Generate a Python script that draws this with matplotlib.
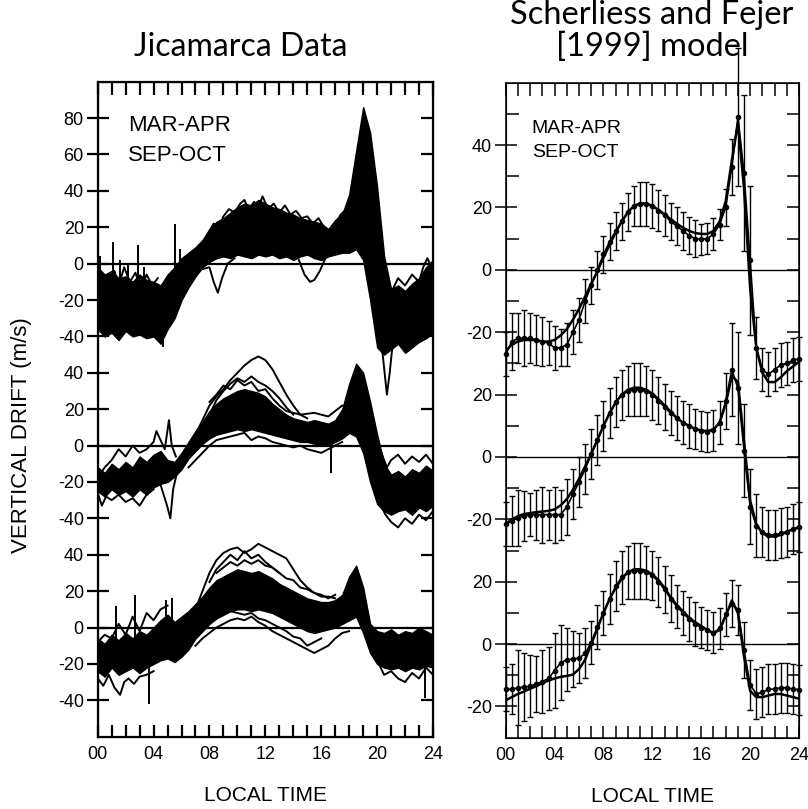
import numpy as np
import matplotlib.pyplot as plt

plt.rcParams['font.family'] = ['Liberation Sans', 'DejaVu Sans']

HOURS = np.arange(0, 24.5, 0.5)

# ---------------- Jicamarca data (left), three stacked sets ----------------
LEFT_OFFSETS = [0, -100, -200]
LEFT_TICK_LABELS = [[80, 60, 40, 20, 0, -20, -40],
                    [40, 20, 0, -20, -40],
                    [40, 20, 0, -20, -40]]

TOP_UPPER = [-2, -6, -4, -8, -7, -10, -6, -9,
             -10, -12, -6, -2, 3, 6, 9, 13,
             19, 23, 25, 28, 31, 33, 32, 35,
             33, 31, 30, 28, 27, 25, 24, 23,
             22, 19, 24, 27, 38, 62, 86, 72,
             42, 4, -14, -12, -15, -11, -8, -2, 2]
TOP_LOWER = [-36, -40, -38, -42, -37, -40, -39, -41,
             -40, -44, -36, -30, -20, -13, -7, -2,
             1, 3, 4, 3, 5, 4, 3, 5,
             4, 5, 3, 4, 2, 4, 5, 3,
             2, 4, 5, 6, 6, 8, 2, -20,
             -46, -50, -47, -44, -49, -46, -43, -41, -38]
TOP_TRACES = [
    ([7.5, 8.0, 8.3, 8.6, 8.9, 9.3, 9.8], [-3, -2, -10, -16, -8, 0, 3]),
    ([14.4, 14.8, 15.2, 15.5, 15.9, 16.3], [2, -6, -10, -9, -4, 3]),
    ([20.0, 20.4, 20.7, 20.9, 21.1, 21.5], [-30, -50, -72, -60, -45, -40]),
    ([20.6, 21.0, 21.5, 22.0, 22.5, 23.0, 23.3, 23.6, 24.0],
     [-10, -16, -8, -12, -6, -10, -2, 3, -4]),
    ([7.5, 8, 8.3, 8.7, 9, 9.4, 9.8, 10.2, 10.5, 10.8, 11.2, 11.5, 11.8, 12.2, 12.6,
      13, 13.4, 13.8, 14.2, 14.6, 15, 15.4, 15.8, 16.2, 16.6, 17, 17.4, 17.8],
     [10, 18, 22, 20, 26, 30, 28, 33, 35, 30, 34, 31, 37, 30, 33,
      28, 32, 27, 29, 25, 26, 22, 25, 20, 18, 22, 27, 30]),
    ([0, 0.4, 0.8, 1.2, 1.5, 1.9, 2.3, 2.7, 3.1, 3.5, 3.9, 4.3],
     [-20, -8, -14, -4, -12, -2, -10, -5, -14, -6, -12, -8]),
]
TOP_SPIKE_H = [0.2, 1.1, 1.6, 2.2, 2.9, 3.3, 5.5, 5.9, 4.7]
TOP_SPIKE_LO = [-15, -20, -15, -15, -20, -18, -28, -12, -46]
TOP_SPIKE_HI = [4, 12, 2, 0, 10, -2, 22, 8, -30]

MID_UPPER = [-12, -15, -10, -13, -9, -12, -6, -9,
             -5, -3, -8, -9, -4, 2, 8, 13,
             19, 23, 26, 28, 30, 31, 30, 29,
             27, 23, 20, 17, 15, 14, 13, 14,
             13, 12, 14, 20, 34, 45, 40, 24,
             6, -10, -16, -14, -17, -13, -15, -11, -14]
MID_LOWER = [-25, -28, -24, -27, -25, -28, -24, -27,
             -23, -21, -20, -17, -13, -7, -3, 1,
             4, 6, 7, 8, 9, 8, 9, 8,
             7, 6, 5, 4, 3, 2, 2, 1,
             0, 0, 2, 4, 7, 5, -4, -20,
             -32, -36, -38, -36, -35, -38, -34, -36, -33]
MID_TRACES = [
    ([6, 6.5, 7, 7.5, 8, 8.5, 9, 9.5, 10, 10.5, 11, 11.5, 12, 12.5, 13, 13.5, 14, 14.5, 15],
     [-12, -4, 6, 14, 22, 27, 31, 36, 40, 44, 47, 49, 47, 42, 35, 28, 22, 17, 15]),
    ([7, 7.5, 8, 8.5, 9, 9.5, 10, 10.5, 11, 11.5, 12, 12.5, 13, 13.5, 14],
     [4, 10, 17, 25, 30, 34, 37, 35, 38, 35, 33, 30, 26, 21, 17]),
    ([6.5, 7, 7.5, 8, 8.5, 9, 9.5, 10, 10.5, 11, 11.5, 12, 12.5, 13, 13.5, 14, 14.5,
      15, 15.5, 16, 16.5, 17, 17.5],
     [-12, -8, -4, 0, 3, 4, 5, 6, 7, 3, 5, 4, 2, 1, 0, -1, 0, -2, -3, -4, -2, 0, 2]),
    ([0, 0.5, 1, 1.5, 2, 2.5, 3, 3.5, 4, 4.2, 4.5, 4.8, 5.1, 5.3, 5.6],
     [-18, -12, -8, -2, -6, 0, -4, -2, 2, 8, 3, -2, 14, 0, -6]),
    ([4.2, 4.6, 5.0, 5.2, 5.4, 5.7], [-14, -24, -34, -40, -24, -14]),
    ([0, 0.3, 0.6, 1, 1.5, 2, 2.5, 3, 3.5, 4],
     [-26, -33, -28, -30, -27, -31, -29, -33, -27, -24]),
    ([19.8, 20.2, 20.6, 21, 21.5, 22, 22.5, 23, 23.5, 24],
     [-20, -32, -38, -42, -45, -40, -43, -38, -41, -36]),
    ([20.3, 20.7, 21, 21.5, 22, 22.5, 23, 23.5, 24],
     [-4, -12, -8, -5, -10, -6, -9, -5, -10]),
    ([8, 8.5, 9, 9.5, 10, 10.5, 11, 11.5, 12, 12.5, 13, 13.5, 14.5, 15.5, 16.5, 17.5],
     [24, 28, 33, 31, 36, 33, 35, 30, 31, 26, 22, 19, 17, 18, 16, 22]),
]
MID_SPIKE_H = [16.7]
MID_SPIKE_LO = [-15]
MID_SPIKE_HI = [2]

BOT_UPPER = [-6, -9, -4, -7, -3, -6, -2, -4,
             0, 4, 7, 3, 6, 9, 13, 17,
             22, 26, 28, 30, 32, 31, 30, 31,
             29, 27, 24, 22, 20, 18, 16, 15,
             14, 14, 15, 18, 28, 34, 22, 2,
             -2, -3, -1, -4, -2, -3, 0, -2, -4]
BOT_LOWER = [-24, -27, -22, -26, -24, -22, -25, -22,
             -20, -18, -17, -19, -16, -12, -6, -2,
             2, 5, 7, 9, 10, 10, 9, 10,
             9, 8, 6, 4, 2, 0, -2, -3,
             -2, -1, 0, 2, 4, 6, -3, -14,
             -20, -22, -23, -22, -24, -22, -23, -21, -22]
BOT_TRACES = [
    ([7, 7.5, 8, 8.5, 9, 9.5, 10, 10.5, 11, 11.5, 12, 12.5, 13, 13.5, 14, 14.5, 15,
      15.5, 16, 16.5, 17],
     [10, 20, 30, 37, 41, 43, 44, 41, 43, 46, 44, 42, 40, 38, 32, 26, 22, 19, 18, 16, 18]),
    ([8, 8.5, 9, 9.5, 10, 10.5, 11, 11.5, 12, 12.5, 13],
     [25, 32, 36, 40, 37, 42, 38, 40, 36, 33, 30]),
    ([7, 7.5, 8, 8.5, 9, 9.5, 10, 10.5, 11, 11.5, 12, 12.5, 13, 13.5, 14, 14.5, 15,
      15.5, 16, 16.5, 17, 17.5, 18],
     [-10, -6, -3, 0, 2, 4, 5, 4, 6, 3, 1, -2, -4, -6, -8, -10, -12, -14, -12, -10, -6, -3, -2]),
    ([8, 8.5, 9, 9.5, 10, 10.5, 11, 11.5, 12, 12.5, 13, 13.5, 14, 14.5, 15, 15.5, 16],
     [4, 6, 8, 9, 8, 7, 8, 5, 4, 2, 0, -2, -5, -6, -10, -8, -6]),
    ([0, 0.4, 0.8, 1.2, 1.6, 1.9, 2.2, 2.6, 3, 3.5, 4],
     [-28, -32, -26, -33, -37, -30, -28, -31, -27, -26, -24]),
    ([0, 0.5, 1, 1.5, 2, 2.5, 3, 3.5, 4, 4.5, 5],
     [-8, -4, -6, 2, -4, 6, -2, 8, 4, 10, 12]),
    ([19.5, 20, 20.5, 21, 21.5, 22, 22.5, 23, 23.5, 24],
     [-8, -18, -26, -24, -28, -30, -25, -28, -22, -26]),
    ([8.5, 9, 9.5, 10, 10.5, 11, 11.5, 12, 12.5, 13, 13.5, 14, 14.5, 15, 15.5, 16, 16.5, 17],
     [30, 33, 36, 34, 37, 35, 37, 34, 33, 30, 27, 26, 22, 21, 19, 17, 17, 16]),
]
BOT_SPIKE_H = [1.3, 2.7, 3.7, 4.9, 5.3, 23.4]
BOT_SPIKE_LO = [-6, -6, -42, -4, -2, -39]
BOT_SPIKE_HI = [12, 18, -20, 15, 16, -15]

# ---------------- Scherliess and Fejer model (right) ----------------
RIGHT_OFFSETS = [0, -60, -120]
RIGHT_TICK_LABELS = [[40, 20, 0, -20], [20, 0, -20], [20, 0, -20]]

TOP_MODEL = [-26, -24, -23, -22.5, -22.5, -22.5, -23, -23,
             -22.5, -21, -19, -16, -12.5, -8.5, -4.5, -0.5,
             4, 8, 12, 15.5, 18.5, 20.5, 21.3, 21.3,
             20.5, 19.2, 17.8, 16.2, 14.8, 13.5, 12.5, 11.8,
             11.5, 11.5, 12.5, 15.5, 22, 35, 47, 26,
             -6, -25, -33, -36, -36, -34.5, -32.5, -31, -29.5]
TOP_DATA = [-27, -23, -22, -22, -22, -22.5, -23, -23.5,
            -25, -25, -24, -20, -16, -10, -5, 0,
            5, 9, 12.5, 15.5, 18.5, 20.5, 21, 21,
            20.5, 19, 17.5, 15.5, 14, 12.5, 11, 10,
            9.8, 10, 11.5, 14.5, 20, 33, 49, 31,
            3, -25, -32, -33.5, -32, -30.5, -30, -29, -28.5]
TOP_ERR = [7, 9, 8, 9, 8, 8, 8, 7,
           7, 6, 7, 7, 7, 7, 6, 6,
           6, 6, 6, 6, 6, 6.5, 7, 7,
           7, 6.5, 6.5, 6, 6, 6, 6, 6,
           5, 5, 5, 5, 6, 9, 22, 25,
           24, 10, 7, 7, 7, 7, 7, 7, 7]

MID_MODEL = [-21.5, -20, -19, -18.3, -18, -17.7, -17.5, -17.3,
             -16.8, -15.5, -13.5, -10.5, -7, -3, 1, 5.5,
             10, 14, 17.5, 20, 21.5, 22.2, 22.2, 21.5,
             20.3, 18.5, 16.5, 14.5, 12.5, 11, 10, 9,
             8.5, 8.3, 8.8, 11, 17, 26, 24, 5,
             -14, -21.5, -24.5, -25.5, -25.5, -25, -24, -23.3, -22.5]
MID_DATA = [-21.6, -20.5, -19.5, -19, -18.5, -18.5, -18.5, -18.5,
            -18.5, -18.5, -16, -12, -8, -4, 1, 5.5,
            10, 14, 17.5, 20, 21, 21.5, 21.5, 21,
            20, 18, 16, 14, 12.5, 11, 10, 9,
            8.3, 8, 8.5, 11, 18, 28, 22, 2,
            -16, -22, -24, -25, -25, -24.5, -24, -23, -22.5]
MID_ERR = [7, 8, 9, 8, 7, 8, 9, 8,
           9, 8, 9, 8, 8, 8, 8, 8,
           8, 8, 8, 8, 8, 8.5, 8.5, 8,
           8, 7.5, 7.5, 7, 7, 7, 7, 6.5,
           6.5, 6.5, 6.5, 7, 9, 15, 18, 15,
           12, 10, 8, 8, 8, 8, 8, 8, 8]

BOT_MODEL = [-18, -17, -16, -15.2, -14.3, -13.5, -12.5, -11.7,
             -11, -10.5, -10.2, -9.8, -8, -5, 0, 5,
             10, 14.5, 18, 21, 23, 24, 24, 23.5,
             22.3, 20.5, 18, 15, 12.5, 10.5, 8.5, 7,
             5.8, 4.5, 3.5, 4.5, 9, 14, 10, -4,
             -15, -17, -17, -16.5, -16, -16, -16.5, -17, -17.5]
BOT_DATA = [-14.5, -14.5, -14, -13.8, -13.5, -12.8, -12, -11,
            -8.5, -6, -5, -4.8, -4.5, -3, 0.5, 5.5,
            10, 14.5, 18.5, 21.5, 23, 23.5, 23.5, 23,
            22, 20, 17.5, 14.5, 12, 10, 8, 6.5,
            5.3, 4.5, 3.7, 5, 9.5, 13, 11, -2,
            -13, -16, -15.5, -14.5, -14.4, -14, -14, -14.4, -14.6]
BOT_ERR = [7, 8, 12, 11, 10, 9, 10, 10,
           12, 12, 10, 9, 8, 8, 7, 7,
           7, 8, 8, 8.5, 8.5, 9, 9, 8.5,
           8, 8, 7.5, 7.5, 7, 7, 7, 7,
           6.5, 6.5, 6.5, 6.5, 7, 7.5, 8, 9,
           8, 8, 8, 8, 8, 8, 8, 8, 8]

SEASONS = ['MAR-APR', 'SEP-OCT']


def main():
    fig = plt.figure(figsize=(8.08, 8.09), dpi=100)
    ax_l = fig.add_axes([0.1209, 0.0894, 0.4150, 0.8096])
    ax_r = fig.add_axes([0.6259, 0.0882, 0.3630, 0.8096])

    plot_jicamarca(ax_l)
    plot_model(ax_r)

    title_font = ['Lato', 'DejaVu Sans']
    fig.text(241 / 808, 1 - 47 / 809, 'Jicamarca Data', ha='center', va='center',
             fontsize=23, family=title_font)
    fig.text(652 / 808, 1 - 15 / 809, 'Scherliess and Fejer', ha='center', va='center',
             fontsize=23.5, family=title_font)
    fig.text(652 / 808, 1 - 47 / 809, '[1999] model', ha='center', va='center',
             fontsize=23.5, family=title_font)
    fig.text(22 / 808, 1 - 435 / 809, 'VERTICAL DRIFT (m/s)', rotation=90,
             ha='center', va='center', fontsize=16)

    plt.savefig('out.png', dpi=100)


def style_time_axis(ax, lw):
    ax.set_xlim(0, 24)
    ax.set_xticks(range(0, 25))
    ax.set_xticklabels(['%02d' % h if h % 4 == 0 else '' for h in range(0, 25)])
    ax.tick_params(axis='x', direction='in', top=True, length=9, width=lw,
                   labelsize=13, pad=7)
    ax.set_xlabel('LOCAL TIME', fontsize=15, labelpad=16)
    for sp in ax.spines.values():
        sp.set_linewidth(lw)


def plot_jicamarca(ax):
    stacks = [
        (TOP_UPPER, TOP_LOWER, TOP_TRACES, TOP_SPIKE_H, TOP_SPIKE_LO, TOP_SPIKE_HI),
        (MID_UPPER, MID_LOWER, MID_TRACES, MID_SPIKE_H, MID_SPIKE_LO, MID_SPIKE_HI),
        (BOT_UPPER, BOT_LOWER, BOT_TRACES, BOT_SPIKE_H, BOT_SPIKE_LO, BOT_SPIKE_HI),
    ]
    for off, (up, lo, traces, sh, slo, shi) in zip(LEFT_OFFSETS, stacks):
        ax.fill_between(HOURS, np.array(lo) + off, np.array(up) + off,
                        color='k', lw=1.0)
        for th, tv in traces:
            ax.plot(th, np.array(tv) + off, color='k', lw=1.4)
        ax.vlines(sh, np.array(slo) + off, np.array(shi) + off, color='k', lw=1.4)
        ax.axhline(off, color='k', lw=1.6)

    ax.set_ylim(-260, 100)
    ticks, labels = [], []
    for off, labs in zip(LEFT_OFFSETS, LEFT_TICK_LABELS):
        ticks += [v + off for v in labs]
        labels += [str(v) for v in labs]
    ax.set_yticks(ticks)
    ax.set_yticklabels(labels)
    ax.tick_params(axis='y', direction='inout', length=16, width=1.6,
                   labelsize=13, pad=2)
    style_time_axis(ax, 1.6)

    ax2 = ax.twinx()
    ax2.set_ylim(ax.get_ylim())
    ax2.set_yticks(ticks)
    ax2.tick_params(axis='y', direction='in', length=9, width=1.6, labelright=False)

    for i, s in enumerate(SEASONS):
        ax.text(0.09, 0.933 - 0.045 * i, s, transform=ax.transAxes, fontsize=16,
                va='center', ha='left')


def plot_model(ax):
    stacks = [(TOP_MODEL, TOP_DATA, TOP_ERR),
              (MID_MODEL, MID_DATA, MID_ERR),
              (BOT_MODEL, BOT_DATA, BOT_ERR)]
    for off, (model, data, err) in zip(RIGHT_OFFSETS, stacks):
        ax.axhline(off, color='k', lw=1.0)
        ax.plot(HOURS, np.array(model) + off, color='k', lw=1.8)
        eb = ax.errorbar(HOURS, np.array(data) + off, yerr=err, fmt='o-', color='k',
                         ms=3, lw=1.2, elinewidth=1.0, capsize=2.2, capthick=1.0)
        for art in eb.get_children():
            art.set_clip_on(False)

    ax.set_ylim(-150, 60)
    ticks, labels = [], []
    for off, labs in zip(RIGHT_OFFSETS, RIGHT_TICK_LABELS):
        ticks += [v + off for v in labs]
        labels += [str(v) for v in labs]
    minor = [v for v in range(-140, 60, 10) if v not in ticks]
    ax.set_yticks(ticks)
    ax.set_yticklabels(labels)
    ax.set_yticks(minor, minor=True)
    ax.tick_params(axis='y', which='major', direction='inout', length=16, width=1.1,
                   labelsize=13, pad=2)
    ax.tick_params(axis='y', which='minor', direction='in', length=9, width=1.1)
    style_time_axis(ax, 1.1)

    ax2 = ax.twinx()
    ax2.set_ylim(ax.get_ylim())
    ax2.set_yticks(ticks + minor)
    ax2.tick_params(axis='y', direction='in', length=9, width=1.1, labelright=False)

    for i, s in enumerate(SEASONS):
        ax.text(0.089, 0.930 - 0.036 * i, s, transform=ax.transAxes, fontsize=14,
                va='center', ha='left')


if __name__ == '__main__':
    main()
